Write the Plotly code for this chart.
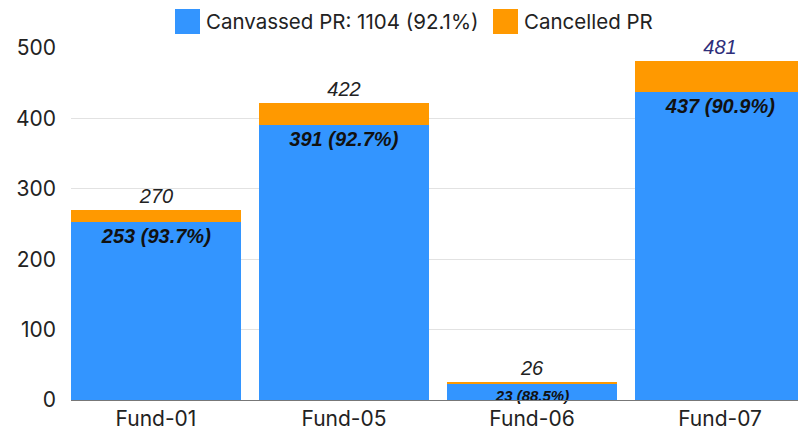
import plotly.graph_objects as go

# data
funds = ["Fund-01", "Fund-05", "Fund-06", "Fund-07"]
canvassed = [253, 391, 23, 437]
cancelled = [17, 31, 3, 44]
totals = [270, 422, 26, 481]
canvassed_labels = ["253 (93.7%)", "391 (92.7%)", "23 (88.5%)", "437 (90.9%)"]
total_colors = ["#222222", "#222222", "#222222", "#2E2E7A"]
y_ticks = [0, 100, 200, 300, 400, 500]
legend_names = ["Canvassed PR: 1104 (92.1%)", "Cancelled PR"]

blue = "#3395FF"
orange = "#FF9900"

# page body has an 8px margin, so the figure is laid out 8px up/left of the window
OFF = 8
W, H = 806 - OFF, 434 - OFF
L, R, T, B = 71 - OFF, 1, 48 - OFF, 34


# window pixel -> paper helpers (for the hand drawn legend)
def px(x):
    return (x - OFF - L) / (W - L - R)


def py(y):
    return (H - B - (y - OFF)) / (H - T - B)


fig = go.Figure()

fig.add_trace(go.Bar(
    x=funds, y=canvassed, name=legend_names[0],
    marker=dict(color=blue, line=dict(width=0)),
    text=canvassed_labels, textposition="inside", insidetextanchor="end",
    constraintext="none",
    textfont=dict(family="Liberation Sans", size=[20, 20, 15, 20], color="#111111",
                  weight="bold", style="italic"),
    showlegend=False, cliponaxis=False,
))
fig.add_trace(go.Bar(
    x=funds, y=cancelled, name=legend_names[1],
    marker=dict(color=orange, line=dict(width=0)),
    text=[str(t) for t in totals], textposition="outside",
    textfont=dict(family="Liberation Sans", size=20, color=total_colors, style="italic"),
    showlegend=False, cliponaxis=False,
))

# legend drawn by hand so the swatches can be big
for x0, nm, col in [(175, legend_names[0], blue), (493, legend_names[1], orange)]:
    fig.add_shape(type="rect", xref="paper", yref="paper",
                  x0=px(x0), x1=px(x0 + 25), y0=py(34), y1=py(9),
                  fillcolor=col, line=dict(width=0))
    fig.add_annotation(xref="paper", yref="paper", x=px(x0 + 29), y=py(22),
                       xanchor="left", yanchor="middle", text=nm, showarrow=False,
                       font=dict(size=20.5, color="#222222"))

fig.update_layout(
    width=W, height=H,
    margin=dict(l=L, r=R, t=T, b=B, autoexpand=False),
    barmode="stack", bargap=0.096,
    plot_bgcolor="white", paper_bgcolor="white",
    showlegend=False,
    font=dict(family="Inter, sans-serif", size=21, color="#222222"),
    xaxis=dict(range=[-0.452, 3.452], showline=True, linecolor="#777777", linewidth=1,
               ticks="", tickfont=dict(size=21), automargin=False),
    yaxis=dict(range=[0, 500], tickvals=y_ticks, showgrid=True, gridcolor="#e2e2e2",
               zeroline=False, ticks="", tickfont=dict(size=21), ticklabelstandoff=14,
               automargin=False),
)

fig.write_html("out.html")
